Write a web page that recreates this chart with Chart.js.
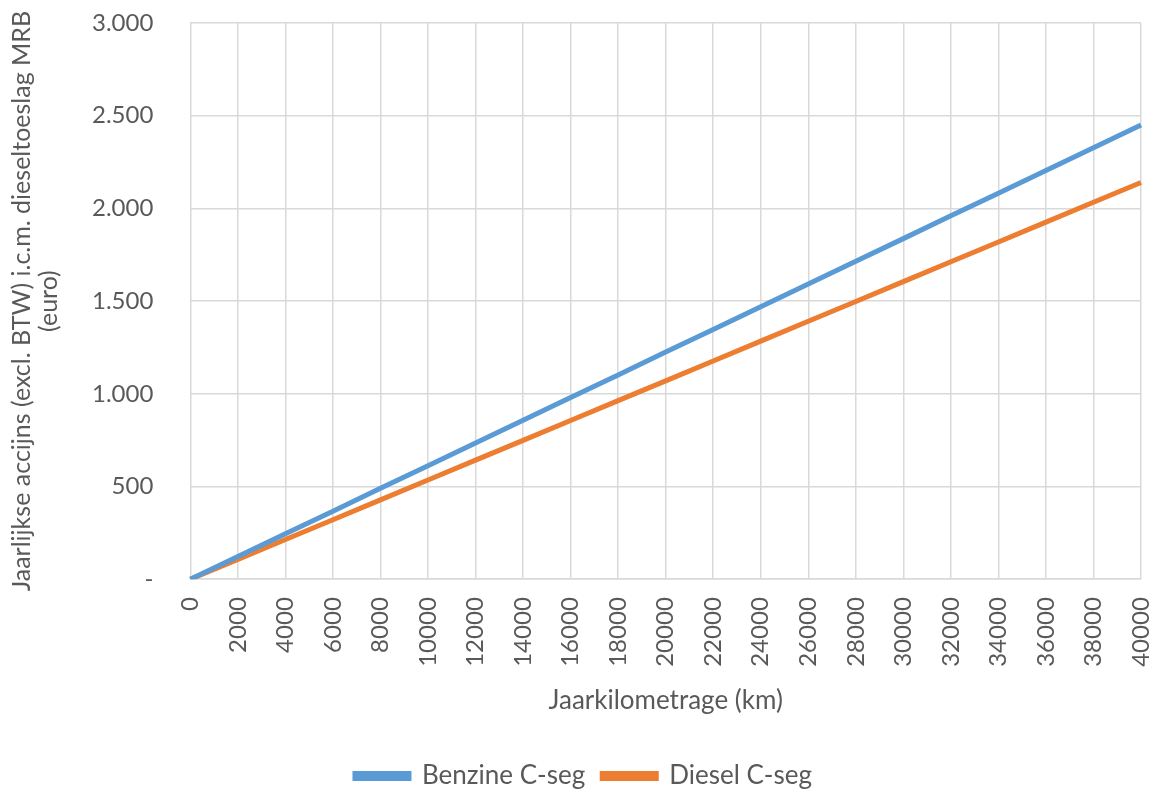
<!DOCTYPE html>
<html>
<head>
<meta charset="utf-8">
<script src="https://cdn.jsdelivr.net/npm/chart.js@4"></script>
<style>
  html, body { margin: 0; padding: 0; background: #fff; }
  #wrap { width: 1159px; height: 789px; }
</style>
</head>
<body>
<div id="wrap"><canvas id="chart"></canvas></div>
<script>
const kilometers = [0, 2000, 4000, 6000, 8000, 10000, 12000, 14000, 16000, 18000, 20000,
  22000, 24000, 26000, 28000, 30000, 32000, 34000, 36000, 38000, 40000];
const benzine = [0, 122, 245, 367, 490, 612, 735, 857, 980, 1102, 1225,
  1347, 1470, 1592, 1715, 1837, 1960, 2082, 2205, 2327, 2450];
const diesel = [0, 107, 214, 321, 428, 535, 642, 749, 856, 963, 1070,
  1177, 1284, 1391, 1498, 1605, 1712, 1819, 1926, 2033, 2140];

const textColor = '#595959';
const gridColor = '#d9d9d9';
const fontFamily = 'Lato, "Open Sans", sans-serif';

const ctx = document.getElementById('chart').getContext('2d');
new Chart(ctx, {
  type: 'line',
  data: {
    labels: kilometers,
    datasets: [
      {
        label: 'Benzine C-seg',
        data: benzine,
        borderColor: '#5b9bd5',
        backgroundColor: '#5b9bd5',
        borderWidth: 5,
        pointRadius: 0,
        tension: 0,
      },
      {
        label: 'Diesel C-seg',
        data: diesel,
        borderColor: '#ed7d31',
        backgroundColor: '#ed7d31',
        borderWidth: 5,
        pointRadius: 0,
        tension: 0,
      },
    ],
  },
  options: {
    responsive: true,
    maintainAspectRatio: false,
    animation: false,
    layout: { padding: { left: 8, right: 0, top: 23, bottom: -10 } },
    plugins: {
      tooltip: { enabled: false },
      legend: {
        position: 'bottom',
        labels: {
          color: textColor,
          font: { family: fontFamily, size: 26 },
          boxWidth: 54,
          boxHeight: 5,
          padding: 17,
        },
      },
    },
    scales: {
      x: {
        offset: false,
        grid: {
          color: gridColor,
          lineWidth: 1.5,
          drawTicks: true,
          tickLength: 18,
          tickColor: 'rgba(0,0,0,0)',
        },
        border: { color: gridColor, width: 1.5 },
        ticks: {
          color: textColor,
          font: { family: fontFamily, size: 24 },
          minRotation: 90,
          maxRotation: 90,
          autoSkip: false,
          padding: 0,
        },
        // the rotated last label only sticks out half its height
        afterFit: (scale) => {
          scale.paddingRight = 18;
        },
        title: {
          display: true,
          text: 'Jaarkilometrage (km)',
          color: textColor,
          font: { family: fontFamily, size: 26 },
          padding: { top: 18, bottom: 30 },
        },
      },
      y: {
        min: 0,
        max: 3000,
        grid: {
          color: gridColor,
          lineWidth: 1.5,
          drawTicks: true,
          tickLength: 37,
          tickColor: 'rgba(0,0,0,0)',
        },
        border: { display: false },
        ticks: {
          stepSize: 500,
          color: textColor,
          font: { family: fontFamily, size: 24 },
          padding: 0,
          callback: (v) => (v === 0 ? '-' : v.toLocaleString('nl-NL')),
        },
        title: {
          display: true,
          text: ['Jaarlijkse accijns (excl. BTW) i.c.m. dieseltoeslag MRB', '(euro)'],
          color: textColor,
          font: { family: fontFamily, size: 25, lineHeight: 1.1 },
          padding: { top: 0, bottom: 29 },
        },
      },
    },
  },
});
</script>
</body>
</html>
